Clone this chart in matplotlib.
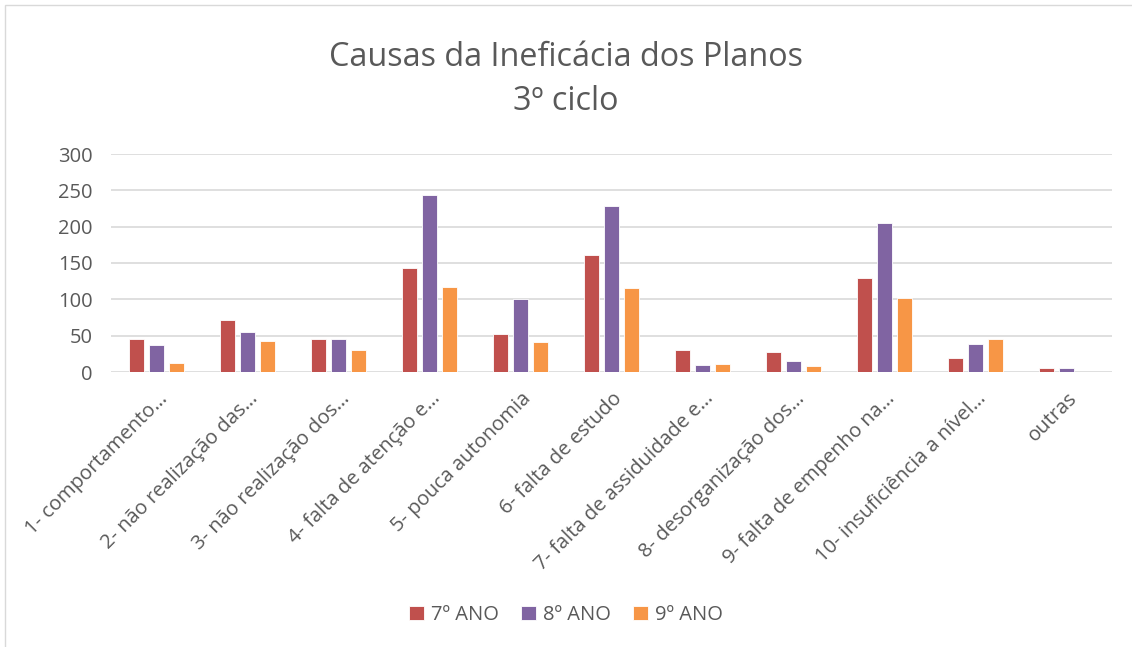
import matplotlib.pyplot as plt
import numpy as np
from matplotlib.patches import Rectangle
from matplotlib.transforms import ScaledTranslation

plt.rcParams['font.family'] = ['Open Sans', 'DejaVu Sans']

categorias = ['1- comportamento…', '2- não realização das…', '3- não realização dos…',
              '4- falta de atenção e…', '5- pouca autonomia', '6- falta de estudo',
              '7- falta de assiduidade e…', '8- desorganização dos…',
              '9- falta de empenho na…', '10- insuficiência a nível…', 'outras']
ano7 = [45, 72, 45, 143, 52, 161, 30, 27, 129, 19, 6]
ano8 = [37, 55, 45, 243, 100, 229, 9, 15, 205, 38, 6]
ano9 = [12, 42, 30, 117, 41, 116, 11, 8, 102, 45, 0]
series = ['7º ANO', '8º ANO', '9º ANO']
cores = ['#C0504D', '#8064A2', '#F79646']

fig = plt.figure(figsize=(11.32, 6.47), dpi=100)
ax = fig.add_axes([111/1132, 1 - 372/647, 1001/1132, 218/647])

x = np.arange(len(categorias))
w = 0.175
passo = 0.22
for i, (dados, nome, cor) in enumerate(zip([ano7, ano8, ano9], series, cores)):
    ax.bar(x + (i - 1) * passo, dados, w, color=cor, label=nome,
           edgecolor='white', linewidth=0.6, zorder=3)

ax.set_xlim(-0.5, len(categorias) - 0.5)
ax.set_ylim(0, 300)
ax.set_yticks(range(0, 301, 50))
ax.grid(axis='y', color='#d9d9d9', linewidth=1.2, zorder=0)
for s in ax.spines.values():
    s.set_visible(False)
ax.tick_params(length=0, colors='#595959', labelsize=14.5)
ax.tick_params(axis='y', pad=13)
ax.set_xticks(x)
ax.set_xticklabels(categorias, rotation=45, ha='right', va='center', rotation_mode='anchor')
ax.tick_params(axis='x', pad=17)
desloc = ScaledTranslation(8/100, 0, fig.dpi_scale_trans)
for t in ax.get_xticklabels():
    t.set_transform(t.get_transform() + desloc)

fig.text(0.5, 1 - 57/647, 'Causas da Ineficácia dos Planos', ha='center', va='center',
         fontsize=23.3, color='#595959')
fig.text(0.5, 1 - 102/647, '3º ciclo', ha='center', va='center',
         fontsize=23.3, color='#595959')

fig.legend(loc='center', bbox_to_anchor=(0.5, 1 - 615/647), ncol=3, frameon=False,
           fontsize=14.5, labelcolor='#595959', handlelength=0.75, handleheight=0.75,
           handletextpad=0.35, columnspacing=1.1)

fig.patches.append(Rectangle((5/1132, -0.1), 1.2, 1 - 5/647 + 0.1, transform=fig.transFigure,
                             fill=False, edgecolor='#d9d9d9', linewidth=1))

fig.savefig('out.png', dpi=100)
